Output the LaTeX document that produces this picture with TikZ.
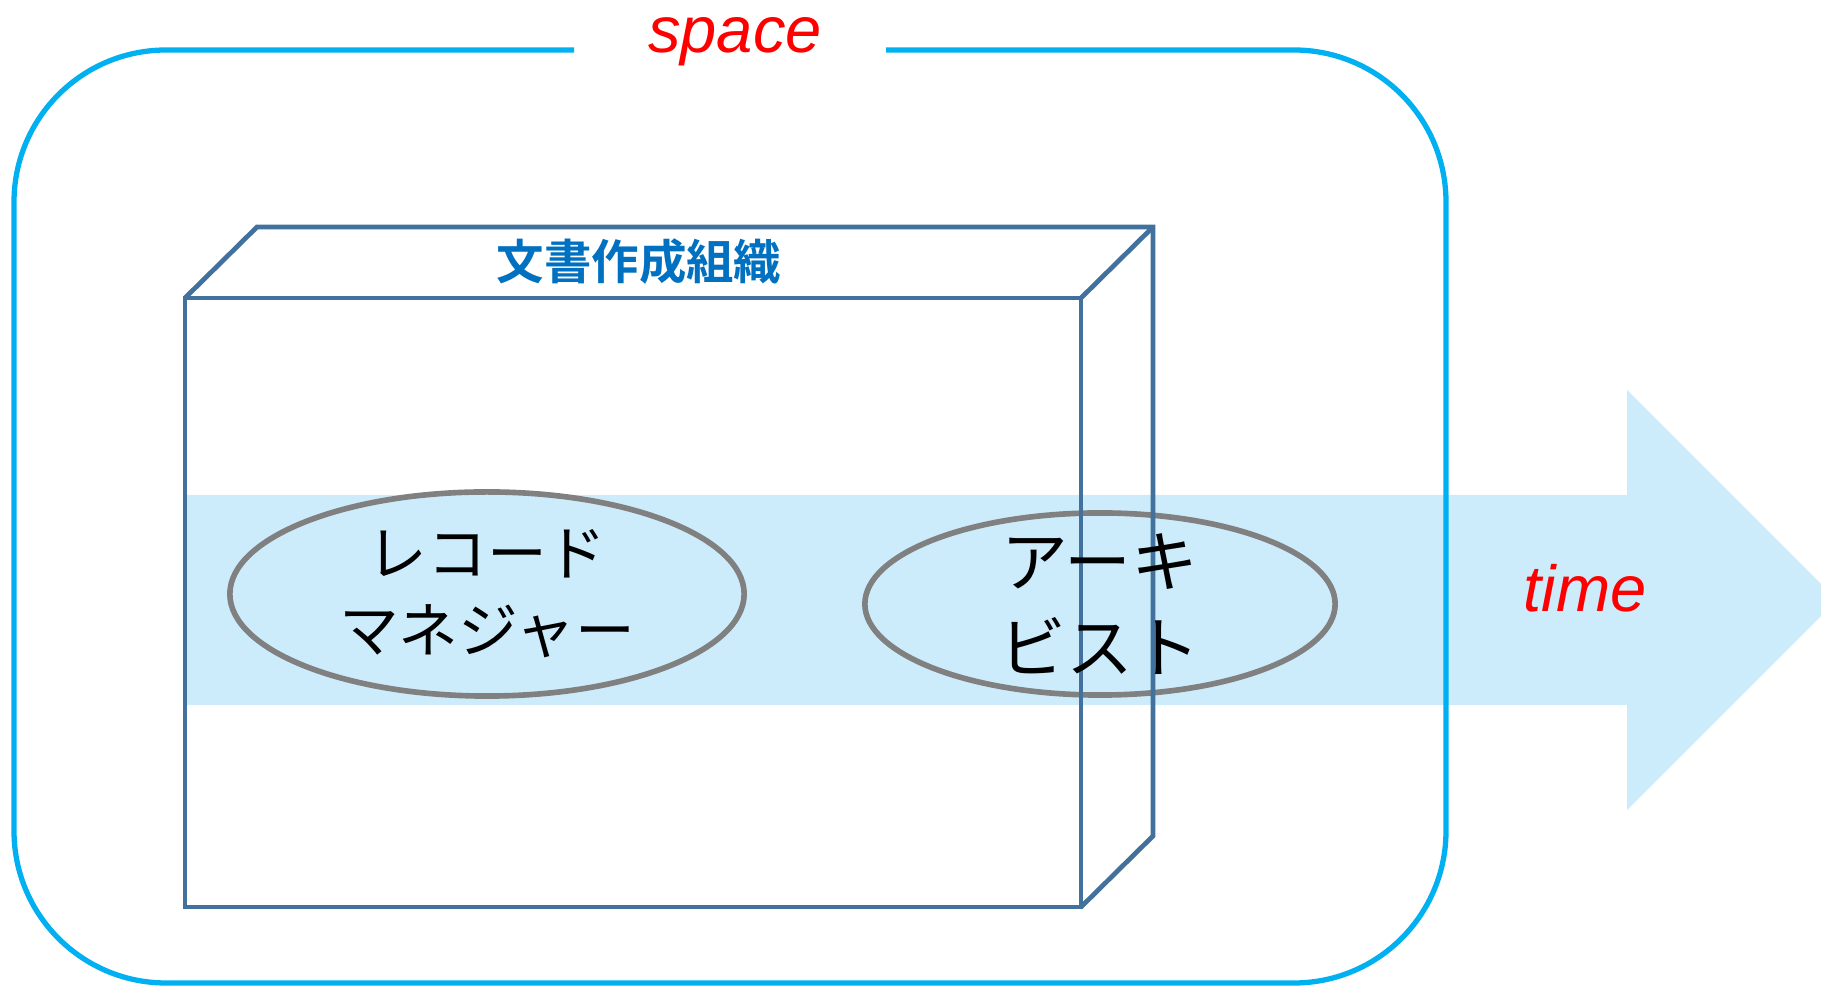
\documentclass[tikz,border=0pt]{standalone}
\usepackage{fontspec}
\setmainfont{Liberation Sans}
\newfontfamily\jpfont{Noto Sans CJK JP}
\newfontfamily\jpbold{Noto Sans CJK JP}[BoldFont=* Bold]
\usetikzlibrary{shapes.geometric}
\definecolor{frameCyan}{RGB}{0,176,240}
\definecolor{cubeBlue}{RGB}{65,113,156}
\definecolor{titleBlue}{RGB}{0,112,192}
\definecolor{bandBlue}{RGB}{204,236,252}
\definecolor{ringGray}{RGB}{128,128,128}
\definecolor{labelRed}{RGB}{255,0,0}
\tikzset{
  framepath/.style={draw=frameCyan, line width=1.5pt, rounded corners=1.52cm},
  cubeline/.style={draw=cubeBlue, line width=1.35pt, line join=miter},
  ring/.style={ellipse, draw=ringGray, line width=1.6pt, fill=bandBlue, inner sep=0pt},
  redlabel/.style={text=labelRed, font=\fontsize{18.5}{22}\selectfont\itshape, inner sep=0pt},
  jplabel/.style={align=center, inner sep=0pt, text=black},
}
\begin{document}
\begin{tikzpicture}[x=0.01cm, y=-0.01cm]
\useasboundingbox (0,0) rectangle (1821,986);
\clip (0,0) rectangle (1821,986);
% time band arrow
\fill[bandBlue] (185,495) -- (1627,495) -- (1627,390) -- (1837,600) -- (1627,810) -- (1627,705) -- (185,705) -- cycle;
\node[redlabel, anchor=base] (time) at (1585,612) {time};
% ellipses
\node[ring, minimum width=5.14cm, minimum height=2.04cm] (rm) at (487,594) {};
\node[ring, minimum width=4.70cm, minimum height=1.82cm] (ar) at (1100,604) {};
% cube
\coordinate (fTL) at (185,298);
\coordinate (fTR) at (1081,298);
\coordinate (fBR) at (1081,907);
\coordinate (fBL) at (185,907);
\coordinate (bTL) at (257,227);
\coordinate (bTR) at (1153,227);
\coordinate (bBR) at (1153,836);
\draw[cubeline] (fTL) -- (fTR) -- (fBR) -- (fBL) -- cycle;
\draw[cubeline] (fTL) -- (bTL) -- (bTR) -- (bBR) -- (fBR);
\draw[cubeline] (fTR) -- (bTR);
\node[inner sep=0pt, text=titleBlue, font=\jpbold\bfseries\fontsize{13.5}{16}\selectfont] (org) at (639,262) {文書作成組織};
% ellipse texts
\node[jplabel, font=\jpfont\fontsize{17}{21.9}\selectfont] (rmtext) at (rm.center) {レコード\\マネジャー};
\node[jplabel, font=\jpfont\fontsize{19}{24.5}\selectfont] (artext) at (ar.center) {アーキ\\ビスト};
% space frame
\coordinate (gapL) at (574,50);
\coordinate (gapR) at (886,50);
\draw[framepath] (gapL) -- (14,50) -- (14,983) -- (1446,983) -- (1446,50) -- (gapR);
\node[redlabel, anchor=base] (space) at (735,53) {space};
\end{tikzpicture}
\end{document}
